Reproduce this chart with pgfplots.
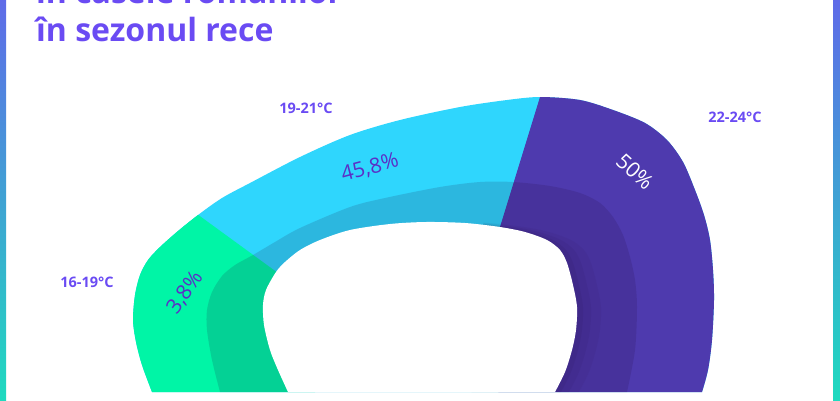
\documentclass[border=0pt]{standalone}
\usepackage{pgfplots}
\pgfplotsset{compat=1.18}
\usepackage{pgfplotstable}
\usepackage{fontspec}
\setmainfont{Open Sans}
\definecolor{cgreen}{HTML}{00F5A6}
\definecolor{ccyan}{HTML}{2FD6FD}
\definecolor{cpurple}{HTML}{4E3AAE}
\definecolor{ctitle}{HTML}{6A4BF3}
\definecolor{cpct}{HTML}{5B2FC6}
\definecolor{cshade}{HTML}{200838}
\definecolor{bartop}{HTML}{5F6BE8}
\definecolor{barbot}{HTML}{1FDABF}

% outer edge of the arch
\pgfplotstableread{
x y
152 0
142 27
136 50
133 72
135 97
140 117
148 132
160 145
178 161
198 177
222 194
250 209
300 235
350 257
400 272
460 285
507 292
540 295
580 292
613 282
645 269
667 252
683 230
695 202
704 177
710 152
713 122
714 92
712 52
708 22
702 0
}\outer
% edge of the shaded inner band
\pgfplotstableread{
x y
220 0
212 32
207 62
207 82
212 100
222 116
235 127
253 137
275 150
300 164
350 185
385 194
440 205
480 210
513 210
550 206
580 199
600 189
613 175
623 157
630 135
635 112
637 85
635 42
627 0
}\middle
% inner edge (hole)
\pgfplotstableread{
x y
288 0
278 22
270 42
264 67
263 87
266 102
276 120
285 130
300 142
320 152
350 162
390 168
426 170
465 169
500 165
525 160
547 152
560 142
567 129
573 107
577 85
576 62
572 42
565 20
555 0
}\inner

\begin{document}
\begin{tikzpicture}
\begin{axis}[
  hide axis, scale only axis,
  width=840pt, height=400pt,
  xmin=0, xmax=840, ymin=-8, ymax=392,
  clip=true,
]
\coordinate (bl) at (rel axis cs:0,0);
\coordinate (tr) at (rel axis cs:1,1);

% 19-21 C : 45.8 %
\addplot[draw=none, fill=ccyan, smooth] table {\outer};
% 16-19 C : 3.8 %
\begin{scope}
\clip (-50,-20) -- (-50,291) -- (42,291) -- (315,92) -- (315,-20) -- cycle;
\addplot[draw=none, fill=cgreen, smooth] table {\outer};
\end{scope}
% 22-24 C : 50 %
\begin{scope}
\clip (560,360) -- (488,126) -- (500,-20) -- (900,-20) -- (900,360) -- cycle;
\addplot[draw=none, fill=cpurple, smooth] table {\outer};
\end{scope}
% inner shaded band
\addplot[draw=none, fill=cshade, fill opacity=0.15, smooth] table {\middle};
% soft shadow along the right inner edge
\begin{scope}
\clip (500,400) -- (470,-20) -- (900,-20) -- (900,400) -- cycle;
\addplot[draw=none, fill=cshade, fill opacity=0.05, smooth] table[x expr=\thisrow{x}+24] {\inner};
\addplot[draw=none, fill=cshade, fill opacity=0.06, smooth] table[x expr=\thisrow{x}+14] {\inner};
\addplot[draw=none, fill=cshade, fill opacity=0.07, smooth] table[x expr=\thisrow{x}+6] {\inner};
\end{scope}
% hole
\addplot[draw=none, fill=white, smooth] table {\inner};

% borders
\shade[top color=bartop, bottom color=barbot] (0,-8) rectangle (6,392);
\shade[top color=bartop, bottom color=barbot] (833,-8) rectangle (840,392);

% titles
\node[anchor=base west, inner sep=0, text=ctitle, font=\fontsize{32}{38}\selectfont\bfseries] at (36,388) {în casele românilor};
\node[anchor=base west, inner sep=0, text=ctitle, font=\fontsize{32}{38}\selectfont\bfseries] at (36,350) {în sezonul rece};

% category labels
\node[text=ctitle, font=\fontsize{14.5}{16}\selectfont\bfseries] at (306,284) {19-21°C};
\node[text=ctitle, font=\fontsize{14.5}{16}\selectfont\bfseries] at (735,275) {22-24°C};
\node[text=ctitle, font=\fontsize{14.5}{16}\selectfont\bfseries] at (87,110) {16-19°C};

% value labels
\node[text=cpct, rotate=15, font=\fontsize{21}{24}\selectfont] at (370,224) {45,8\%};
\node[text=white, rotate=-42, font=\fontsize{21}{24}\selectfont] at (635,220) {50\%};
\node[text=cpct, rotate=55, font=\fontsize{21}{24}\selectfont] at (185,99) {3,8\%};
\end{axis}
\pgfresetboundingbox
\useasboundingbox (bl) rectangle (tr);
\end{tikzpicture}
\end{document}
